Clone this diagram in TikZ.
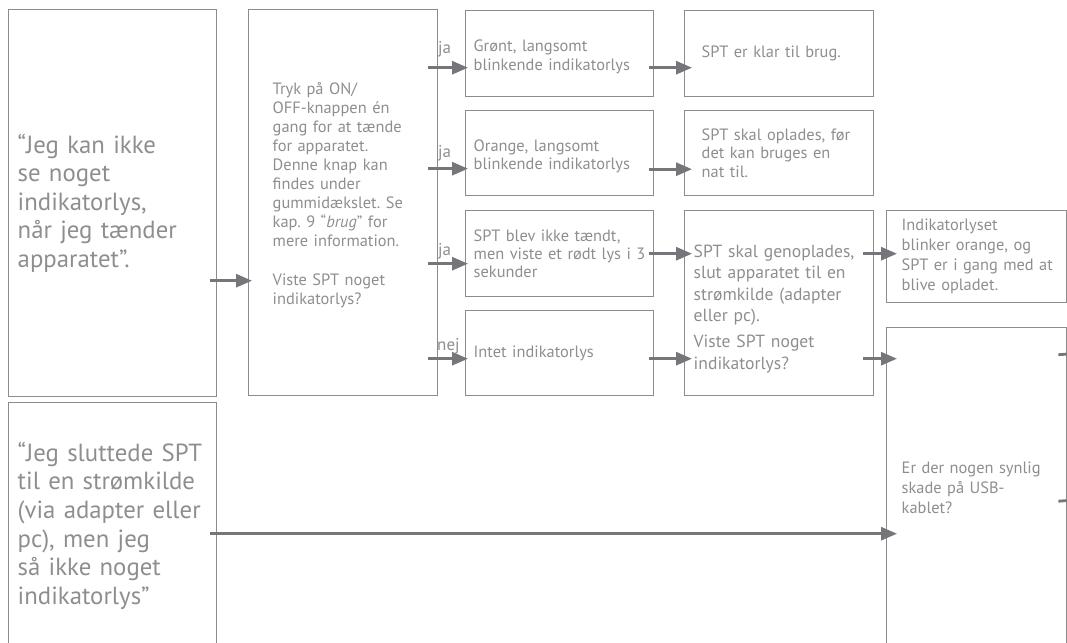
\documentclass[tikz,border=0pt]{standalone}
\usepackage{fontspec}
\setmainfont{PT Sans}
\usetikzlibrary{arrows.meta,calc}
\definecolor{boxc}{RGB}{140,140,142}
\definecolor{txtc}{RGB}{142,142,142}
\definecolor{arrc}{RGB}{118,118,122}
\newcommand\dn[1]{\rule{0pt}{#1}}
\frenchspacing
\begin{document}
\begin{tikzpicture}[x=1pt,y=-1pt,
  box/.style={draw=boxc,line width=1.4pt,rectangle,anchor=north west,text=txtc,align=left,inner ysep=0pt},
  bigtxt/.style={font=\fontsize{24.8}{28.6}\selectfont},
  midtxt/.style={font=\fontsize{16.4}{19.1}\selectfont},
  smalltxt/.style={font=\fontsize{16.4}{18.3}\selectfont},
  dtxt/.style={font=\fontsize{17.6}{21.3}\selectfont},
  etxt/.style={font=\fontsize{16.4}{20}\selectfont},
  arr/.style={draw=arrc,line width=2.8pt,-{Triangle[length=16pt,width=13pt]}},
  stub/.style={draw=arrc,line width=2.8pt},
  lab/.style={text=txtc,font=\fontsize{17}{18}\selectfont,inner sep=0pt,anchor=base west}]
\useasboundingbox (0,0) rectangle (1067,642);

% column 1
\node[box,bigtxt,inner xsep=9pt,text width=190pt,minimum height=387pt] (A) at (8,9)
  {\mbox{“Jeg kan ikke}\\\mbox{se noget}\\\mbox{indikatorlys,}\\\mbox{når jeg tænder}\\\mbox{apparatet”.}};
\node[box,bigtxt,inner xsep=9pt,text width=190pt,minimum height=246pt] (F) at (8,402)
  {\mbox{“Jeg sluttede SPT}\\\mbox{til en strømkilde}\\\mbox{(via adapter eller}\\\mbox{pc), men jeg}\\\mbox{så ikke noget}\\\mbox{indikatorlys”}};

% column 2
\node[box,midtxt,inner xsep=24pt,text width=141pt,minimum height=386pt] (B) at (248,9)
  {Tryk på ON/\\\mbox{OFF-knappen én}\\\mbox{gang for at tænde}\\for apparatet.\\Denne knap kan\\findes under\\\mbox{gummidækslet. Se}\\\mbox{kap. 9 “\textit{brug}” for}\\\mbox{mere information.}\\[19.1pt]Viste SPT noget\\indikatorlys?\\\mbox{}};

% column 3
\node[box,smalltxt,inner xsep=8pt,text width=172pt,minimum height=86pt] (C1) at (465,10)
  {\dn{18pt}Grønt, langsomt\\blinkende indikatorlys};
\node[box,smalltxt,inner xsep=8pt,text width=172pt,minimum height=85pt] (C2) at (465,110)
  {\dn{18pt}Orange, langsomt\\blinkende indikatorlys};
\node[box,smalltxt,inner xsep=8pt,text width=172pt,minimum height=86pt] (C3) at (465,210)
  {SPT blev ikke tændt,\\\mbox{men viste et rødt lys i 3}\\sekunder};
\node[box,smalltxt,inner xsep=8pt,text width=172pt,minimum height=85pt] (C4) at (465,310)
  {Intet indikatorlys};

% column 4
\node[box,smalltxt,inner xsep=17pt,text width=155pt,minimum height=86pt] (D1) at (684,10)
  {SPT er klar til brug.};
\node[box,smalltxt,inner xsep=17pt,text width=155pt,minimum height=85pt] (D2) at (684,110)
  {\mbox{SPT skal oplades, før}\\det kan bruges en\\nat til.};
\node[box,dtxt,inner xsep=9pt,text width=171pt,minimum height=185pt] (D3) at (684,210)
  {\dn{24pt}\mbox{SPT skal genoplades,}\\\mbox{slut apparatet til en}\\\mbox{strømkilde (adapter}\\eller pc).\\[5pt]Viste SPT noget\\indikatorlys?};

% column 5
\node[box,etxt,inner xsep=15pt,text width=150pt,minimum height=92pt] (E1) at (886,210)
  {Indikatorlyset\\\mbox{blinker orange, og}\\\mbox{SPT er i gang med at}\\blive opladet.};
\node[box,etxt,inner xsep=15pt,text width=150pt,minimum height=320pt] (E2) at (886,327)
  {\mbox{Er der nogen synlig}\\skade på USB-\\kablet?};

% connectors
\draw[arr] ([shift={(-7,77.5)}]A.east) -- ([shift={(4,78)}]B.west);
\draw[arr] ([shift={(-10,-135)}]B.east) -- ([shift={(3,14)}]C1.west);
\draw[arr] ([shift={(-10,-34)}]B.east) -- ([shift={(3,15.5)}]C2.west);
\draw[arr] ([shift={(-10,61)}]B.east) -- ([shift={(3,10)}]C3.west);
\draw[arr] ([shift={(-10,156)}]B.east) -- ([shift={(3,5.5)}]C4.west);

\draw[arr] ([shift={(-5,14)}]C1.east) -- ([shift={(8,14)}]D1.west);
\draw[arr] ([shift={(-5,16)}]C2.east) -- ([shift={(8,16)}]D2.west);
\draw[arr] ([shift={(-5,0)}]C3.east) -- ([shift={(8,-49.5)}]D3.west);
\draw[arr] ([shift={(-5,5.5)}]C4.east) -- ([shift={(8,55.5)}]D3.west);

\draw[arr] ([shift={(-11,-49.5)}]D3.east) -- ([shift={(11,-3)}]E1.west);
\draw[arr] ([shift={(-11,55.5)}]D3.east) -- ([shift={(11,-129)}]E2.west);
\draw[arr] ([shift={(-7,8)}]F.east) -- ([shift={(11,46)}]E2.west);

\coordinate (o1) at (1068,354);
\coordinate (o2) at (1068,500.5);
\draw[stub] ([shift={(-9,-133)}]E2.east) -- (o1);
\draw[stub] ([shift={(-9,13.5)}]E2.east) -- (o2);

% labels
\node[lab] (l1) at (438,53) {ja};
\node[lab] (l2) at (438,157) {ja};
\node[lab] (l3) at (438,255) {ja};
\node[lab] (l4) at (437,350) {nej};
\end{tikzpicture}
\end{document}
